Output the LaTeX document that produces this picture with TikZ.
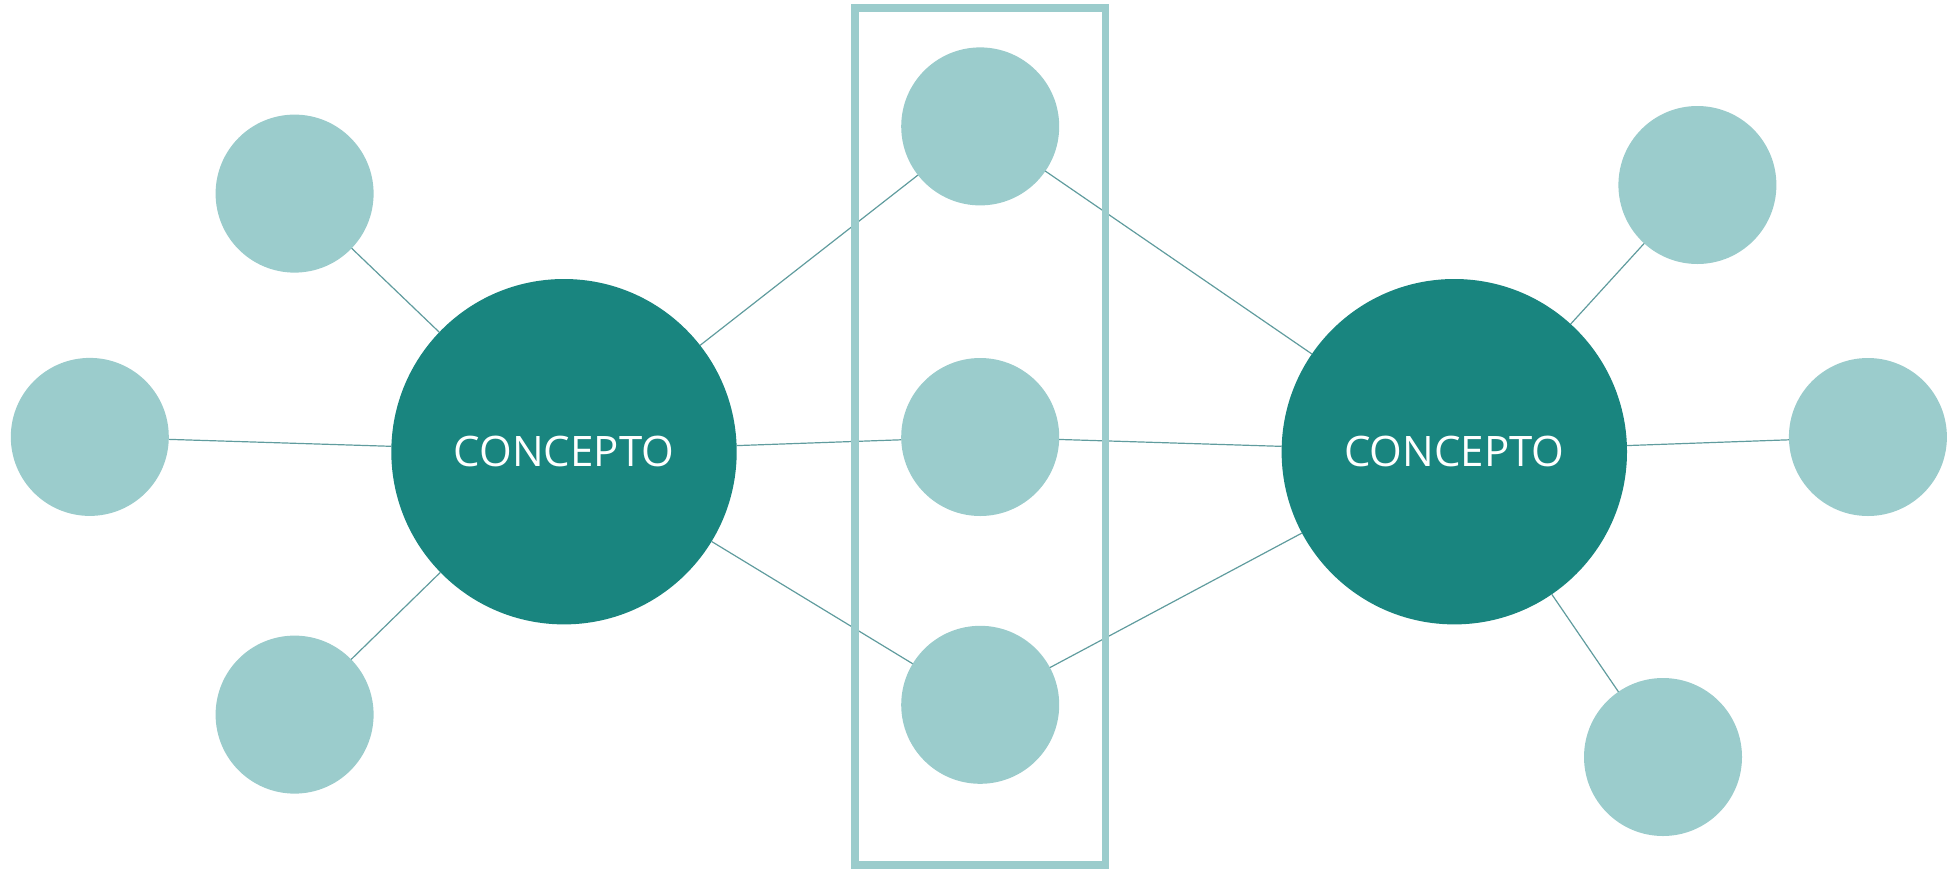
\documentclass[tikz,border=0pt]{standalone}
\usepackage{fontspec}
\setmainfont{Open Sans}
\definecolor{bigteal}{RGB}{25,133,127}
\definecolor{lightteal}{RGB}{155,204,204}
\definecolor{linkcol}{RGB}{96,156,158}
\begin{document}
\begin{tikzpicture}[x=1pt,y=-1pt,
  bigc/.style={circle,fill=bigteal,minimum size=345.4pt,inner sep=0pt,outer sep=0pt,
    text=white,font=\fontsize{42}{48}\selectfont},
  smallc/.style={circle,fill=lightteal,minimum size=158pt,inner sep=0pt,outer sep=0pt},
  link/.style={draw=linkcol,line width=1.2pt},
  groupbox/.style={draw=lightteal,line width=7.3pt,inner sep=0pt,outer sep=0pt}]
\useasboundingbox (0,0) rectangle (1957,868);
\node[bigc] (L) at (564,451.7) {CONCEPTO};
\node[bigc] (R) at (1454.3,451.7) {CONCEPTO};
\node[smallc] (tl) at (294.6,193.6) {};
\node[smallc] (l) at (89.8,436.9) {};
\node[smallc] (bl) at (294.6,714.6) {};
\node[smallc] (mt) at (980.2,126.4) {};
\node[smallc] (mm) at (980.2,437) {};
\node[smallc] (mb) at (980.2,704.8) {};
\node[smallc] (tr) at (1697.4,185) {};
\node[smallc] (r) at (1867.9,437) {};
\node[smallc] (br) at (1663,757) {};
\draw[link] (L) -- (tl);
\draw[link] (L) -- (l);
\draw[link] (L) -- (bl);
\draw[link] (L) -- (mt);
\draw[link] (L) -- (mm);
\draw[link] (L) -- (mb);
\draw[link] (R) -- (mt);
\draw[link] (R) -- (mm);
\draw[link] (R) -- (mb);
\draw[link] (R) -- (tr);
\draw[link] (R) -- (r);
\draw[link] (R) -- (br);
\node[groupbox,minimum width=250.3pt,minimum height=857pt] (box) at (980.15,436.5) {};
\end{tikzpicture}
\end{document}
